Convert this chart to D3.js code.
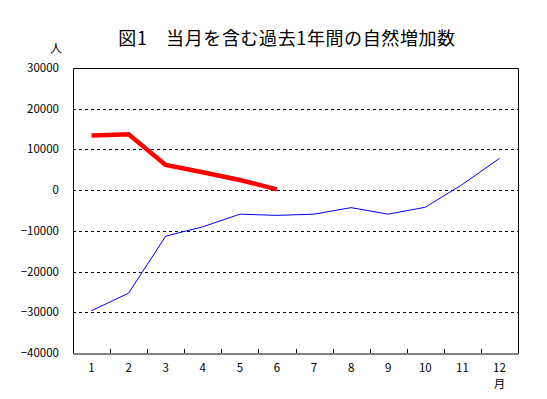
<!DOCTYPE html>
<html>
<head>
  <meta charset="utf-8">
  <script src="https://d3js.org/d3.v7.min.js"></script>
  <style>
    body { margin: 0; background: #fff; }
    text { font-family: "Noto Sans CJK JP", sans-serif; fill: #000; }
  </style>
</head>
<body>
  <svg id="chart" width="547" height="399"></svg>
  <script>
    // 月と値
    const months = ["1", "2", "3", "4", "5", "6", "7", "8", "9", "10", "11", "12"];
    const currentYear = [13400, 13700, 6200, 4400, 2500, 200];
    const lastYear = [-29600, -25300, -11300, -9000, -5900, -6200, -5900, -4300, -5900, -4200, 1400, 7800];
    const yTicks = [30000, 20000, 10000, 0, -10000, -20000, -30000, -40000];

    const svg = d3.select("#chart");
    const plotLeft = 73, plotRight = 518, plotTop = 68, plotBottom = 353;

    const x = d3.scaleBand().domain(months).range([plotLeft, plotRight]);
    const y = d3.scaleLinear().domain([-40000, 30000]).range([plotBottom, plotTop]);

    // タイトル
    svg.append("text")
      .attr("x", 287).attr("y", 45)
      .attr("text-anchor", "middle")
      .style("font-size", "18px")
      .style("letter-spacing", "0.6px")
      .text("図1　当月を含む過去1年間の自然増加数");

    svg.append("text")
      .attr("x", 56).attr("y", 53)
      .attr("text-anchor", "middle")
      .style("font-size", "12px")
      .text("人");

    // 目盛線
    svg.append("g")
      .selectAll("line")
      .data(yTicks.filter(d => d > -40000 && d < 30000))
      .enter().append("line")
      .attr("x1", plotLeft).attr("x2", plotRight)
      .attr("y1", d => Math.round(y(d)) + 0.5).attr("y2", d => Math.round(y(d)) + 0.5)
      .attr("stroke", "#000")
      .attr("stroke-dasharray", "3,3");

    // 枠
    svg.append("path")
      .attr("d", `M${plotLeft + 0.5},${plotBottom + 0.5}V${plotTop + 0.5}H${plotRight + 0.5}V${plotBottom + 0.5}`)
      .attr("fill", "none")
      .attr("stroke", "#000");

    // y軸ラベル
    svg.append("g")
      .selectAll("text")
      .data(yTicks)
      .enter().append("text")
      .attr("x", 59)
      .attr("y", d => y(d) + 4)
      .attr("text-anchor", "end")
      .style("font-size", "11.5px")
      .text(d => d < 0 ? "−" + Math.abs(d) : d);

    // x軸
    const xAxis = d3.axisBottom(x).tickSize(0).tickPadding(10);
    const gx = svg.append("g")
      .attr("transform", `translate(0,${plotBottom + 0.5})`)
      .call(xAxis);
    gx.select(".domain").attr("stroke", "#000");
    gx.selectAll(".tick text").style("font-size", "11.5px").style("font-family", "'Noto Sans CJK JP', sans-serif");

    // 区切り目盛（内向き）
    svg.append("g")
      .selectAll("line")
      .data(months.slice(1))
      .enter().append("line")
      .attr("x1", d => Math.round(x(d)) + 0.5).attr("x2", d => Math.round(x(d)) + 0.5)
      .attr("y1", plotBottom).attr("y2", plotBottom - 4)
      .attr("stroke", "#000");

    svg.append("text")
      .attr("x", x("12") + x.bandwidth() / 2)
      .attr("y", 388)
      .attr("text-anchor", "middle")
      .style("font-size", "11.5px")
      .text("月");

    const line = d3.line()
      .x((d, i) => x(months[i]) + x.bandwidth() / 2)
      .y(d => y(d));

    svg.append("path")
      .datum(lastYear)
      .attr("d", line)
      .attr("fill", "none")
      .attr("stroke", "#0000ff")
      .attr("stroke-width", 1);

    svg.append("path")
      .datum(currentYear)
      .attr("d", line)
      .attr("fill", "none")
      .attr("stroke", "#ff0000")
      .attr("stroke-width", 4.5);
  </script>
</body>
</html>
